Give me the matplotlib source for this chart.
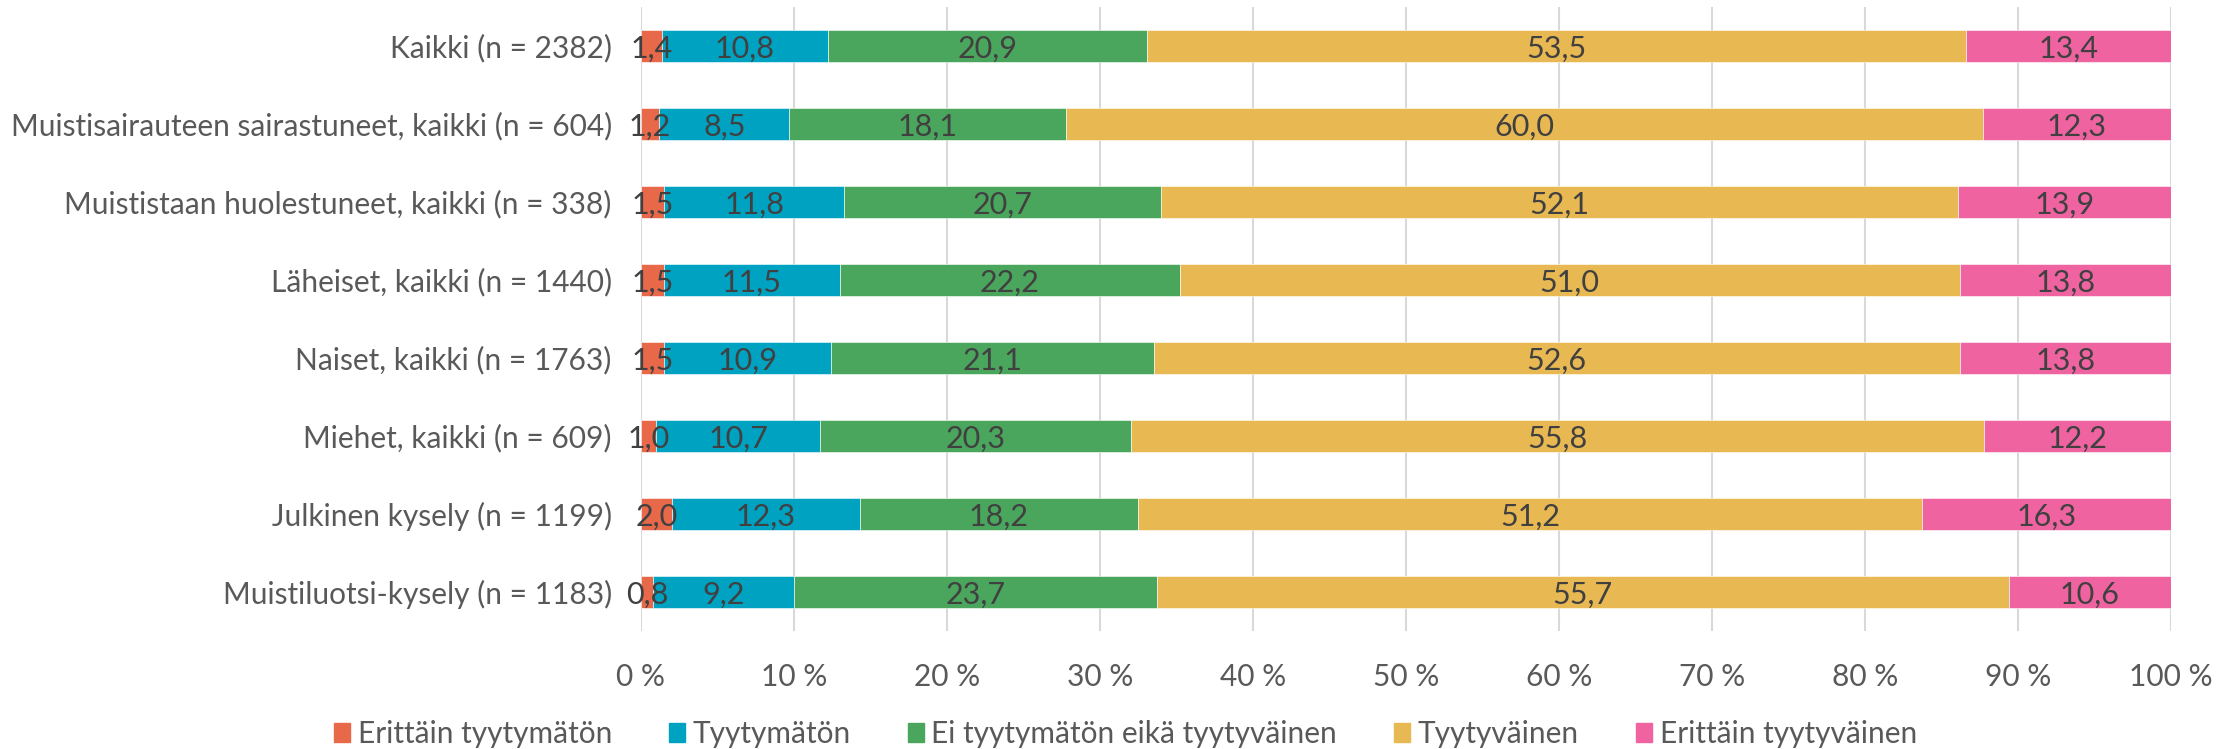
import numpy as np
import matplotlib
matplotlib.use("Agg")
import matplotlib.pyplot as plt
from matplotlib.patches import Patch

plt.rcParams['font.family'] = ['Lato', 'DejaVu Sans']

# data, top row first
categories = [
    'Kaikki (n = 2382)',
    'Muistisairauteen sairastuneet, kaikki (n = 604)',
    'Muististaan huolestuneet, kaikki (n = 338)',
    'Läheiset, kaikki (n = 1440)',
    'Naiset, kaikki (n = 1763)',
    'Miehet, kaikki (n = 609)',
    'Julkinen kysely (n = 1199)',
    'Muistiluotsi-kysely (n = 1183)',
]
series_names = ['Erittäin tyytymätön', 'Tyytymätön', 'Ei tyytymätön eikä tyytyväinen',
                'Tyytyväinen', 'Erittäin tyytyväinen']
erittain_tyytymaton = [1.4, 1.2, 1.5, 1.5, 1.5, 1.0, 2.0, 0.8]
tyytymaton = [10.8, 8.5, 11.8, 11.5, 10.9, 10.7, 12.3, 9.2]
ei_kumpikaan = [20.9, 18.1, 20.7, 22.2, 21.1, 20.3, 18.2, 23.7]
tyytyvainen = [53.5, 60.0, 52.1, 51.0, 52.6, 55.8, 51.2, 55.7]
erittain_tyytyvainen = [13.4, 12.3, 13.9, 13.8, 13.8, 12.2, 16.3, 10.6]
xticks = [0, 10, 20, 30, 40, 50, 60, 70, 80, 90, 100]

colors = ['#E8684A', '#00A2C2', '#4BA65D', '#E8B852', '#EF63A1']
series = [erittain_tyytymaton, tyytymaton, ei_kumpikaan, tyytyvainen, erittain_tyytyvainen]

vals = np.array(series, dtype=float)
share = vals / vals.sum(axis=0) * 100

fig = plt.figure(figsize=(22.37, 7.49), dpi=100)
ax = fig.add_axes([641 / 2237, 1 - 631 / 749, (2171 - 641) / 2237, (631 - 7) / 749])

fs = 21.5
y = np.arange(len(categories))
left = np.zeros(len(categories))
for i, name in enumerate(series_names):
    ax.barh(y, share[i], left=left, height=0.4, color=colors[i], label=name,
            edgecolor='white', linewidth=0.4, zorder=3)
    for j in range(len(categories)):
        ax.text(left[j] + share[i][j] / 2, y[j] + 0.03, f'{vals[i][j]:.1f}'.replace('.', ','),
                ha='center', va='center', fontsize=22, color='#404040', zorder=4)
    left += share[i]

ax.set_ylim(len(categories) - 0.5, -0.5)
ax.set_xlim(0, 100)
ax.set_yticks(y)
ax.set_yticklabels(categories, fontsize=fs, color='#595959')
ax.set_xticks(xticks)
ax.set_xticklabels([f'{t} %' for t in xticks], fontsize=fs, color='#595959')
ax.tick_params(axis='both', length=0)
ax.tick_params(axis='x', pad=23)
ax.tick_params(axis='y', pad=21)
ax.grid(axis='x', color='#D9D9D9', linewidth=1.5, zorder=0)
for s in ax.spines.values():
    s.set_visible(False)

handles = [Patch(color=c) for c in colors]
fig.legend(handles, series_names, loc='center', bbox_to_anchor=(0.503, 1 - 734 / 749),
           ncol=5, frameon=False, fontsize=fs, handlelength=0.55, handleheight=0.6,
           handletextpad=0.25, columnspacing=1.9, labelcolor='#595959')

fig.savefig('out.png', dpi=100)
